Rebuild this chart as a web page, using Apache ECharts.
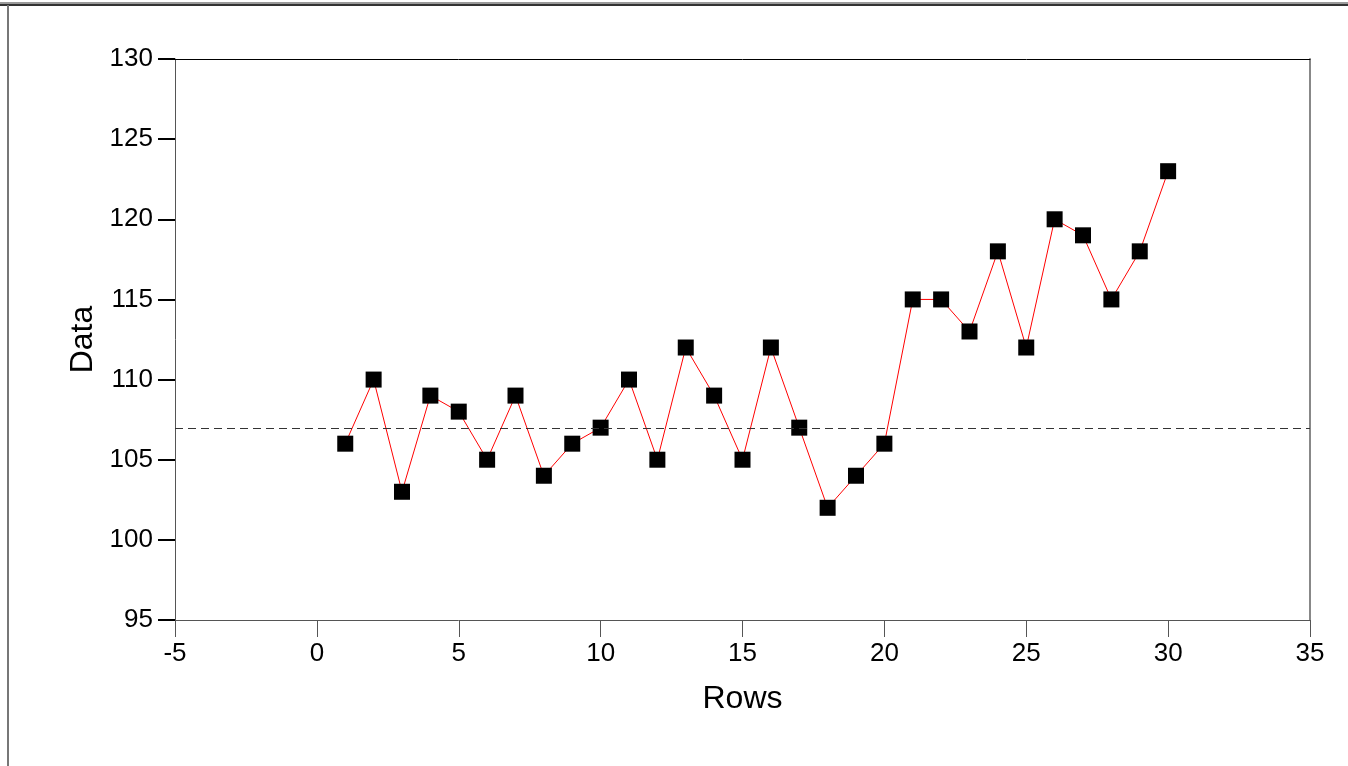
<!DOCTYPE html>
<html>
<head>
<meta charset="utf-8">
<script src="https://cdn.jsdelivr.net/npm/echarts@6/dist/echarts.min.js"></script>
<style>
  html, body { margin: 0; padding: 0; background: #fff; }
  #frame { position: absolute; left: 0; top: 0; width: 1348px; height: 766px; overflow: hidden; }
  #topA { position: absolute; left: 0; top: 2px; width: 1348px; height: 2px; background: #9a9a9a; }
  #topB { position: absolute; left: 0; top: 4px; width: 1348px; height: 2px; background: #333; }
  #leftL { position: absolute; left: 7px; top: 5px; width: 2px; height: 761px; background: #777; }
  #chart { position: absolute; left: 0; top: 0; width: 1348px; height: 766px; }
</style>
</head>
<body>
<div id="frame">
  <div id="chart"></div>
  <div id="topA"></div>
  <div id="topB"></div>
  <div id="leftL"></div>
</div>
<script>
// Data
const rows = [1,2,3,4,5,6,7,8,9,10,11,12,13,14,15,16,17,18,19,20,21,22,23,24,25,26,27,28,29,30];
const values = [106,110,103,109,108,105,109,104,106,107,110,105,112,109,105,112,107,102,104,106,115,115,113,118,112,120,119,115,118,123];
const centerLine = 106.95;
const xTitle = 'Rows';
const yTitle = 'Data';

const chart = echarts.init(document.getElementById('chart'), null, { renderer: 'canvas' });
const font = 'Liberation Sans, Arial, sans-serif';
chart.setOption({
  animation: false,
  grid: { left: 175, right: 38, top: 59, bottom: 146, show: false },
  xAxis: [{
    type: 'value', min: -5, max: 35, interval: 5,
    name: xTitle, nameLocation: 'middle', nameGap: 63,
    nameTextStyle: { fontFamily: font, fontSize: 32, color: '#000' },
    axisLine: { show: true, onZero: false, lineStyle: { color: '#555', width: 1 } },
    axisTick: { show: true, length: 17, lineStyle: { color: '#555', width: 1 } },
    axisLabel: { fontFamily: font, fontSize: 26, color: '#000', margin: 21 },
    splitLine: { show: false }
  }, {
    type: 'value', min: -5, max: 35, position: 'top',
    axisLine: { show: true, onZero: false, lineStyle: { color: '#000', width: 1 } },
    axisTick: { show: false }, axisLabel: { show: false }, splitLine: { show: false }
  }],
  yAxis: [{
    type: 'value', min: 95, max: 130, interval: 5,
    name: yTitle, nameLocation: 'middle', nameGap: 75,
    nameTextStyle: { fontFamily: font, fontSize: 32, color: '#000' },
    axisLine: { show: true, onZero: false, lineStyle: { color: '#555', width: 1 } },
    axisTick: { show: true, length: 17, lineStyle: { color: '#000', width: 2 } },
    axisLabel: { fontFamily: font, fontSize: 26, color: '#000', margin: 22 },
    splitLine: { show: false }
  }, {
    type: 'value', min: 95, max: 130, position: 'right',
    axisLine: { show: true, onZero: false, lineStyle: { color: '#888', width: 2 } },
    axisTick: { show: false }, axisLabel: { show: false }, splitLine: { show: false }
  }],
  series: [{
    type: 'line',
    data: rows.map((r, i) => [r, values[i]]),
    symbol: 'rect', symbolSize: 16,
    itemStyle: { color: '#000' },
    lineStyle: { color: '#ff0000', width: 1 },
    z: 3,
    markLine: {
      silent: true, symbol: 'none', label: { show: false },
      lineStyle: { color: '#333', type: [8, 5], width: 1 },
      data: [{ yAxis: centerLine }]
    }
  }]
});
</script>
</body>
</html>
